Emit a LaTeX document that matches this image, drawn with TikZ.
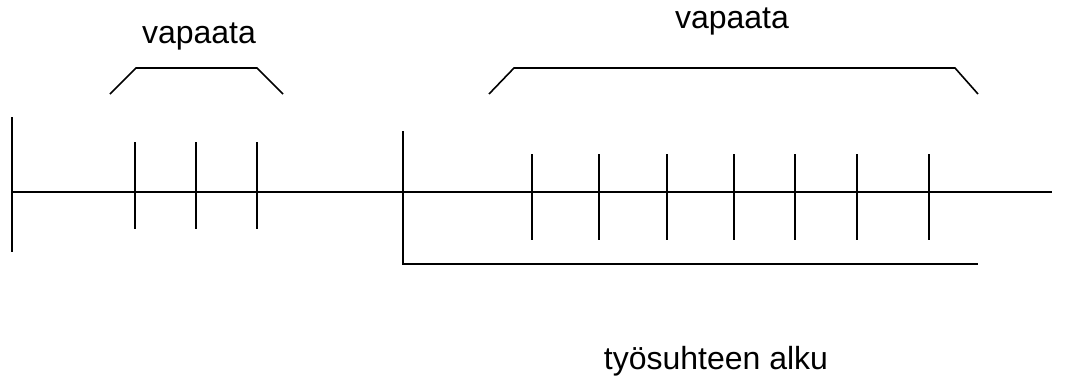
\documentclass[tikz,border=0pt]{standalone}
\usepackage{fontspec}
\setmainfont{Liberation Sans}
\usetikzlibrary{positioning}

\begin{document}
\begin{tikzpicture}[x=1pt, y=-1pt, line width=1.6pt,
    label/.style={font=\fontsize{32}{38}\selectfont, anchor=base, inner sep=0pt}]
\useasboundingbox (0,0) rectangle (1066,378);
%Aikajana
\draw (12,192) -- (1052,192);
\begin{scope}
  \draw (12,117) -- +(0,135);
  \foreach \x in {135,196,257} {
    \draw (\x,142) -- +(0,87);
  }
  \draw (110,94) -- (136,68) -- (257,68) -- (283,94);
  \node[label] (vapaa1) at (199,43) {vapaata};
\end{scope}

%Tyosuhde
\begin{scope}
  \draw (403,131) -- (403,264) -- (978,264);
  \foreach \x in {532,599,667,734,795,857,929} {
    \draw (\x,154) -- +(0,86);
  }
  \draw (489,94) -- (514,68) -- (955,68) -- (978,94);
  \node[label] (vapaa2) at (732,28) {vapaata};
  \node[label] (alku) at (716,369) {työsuhteen alku};
\end{scope}
\end{tikzpicture}
\end{document}
